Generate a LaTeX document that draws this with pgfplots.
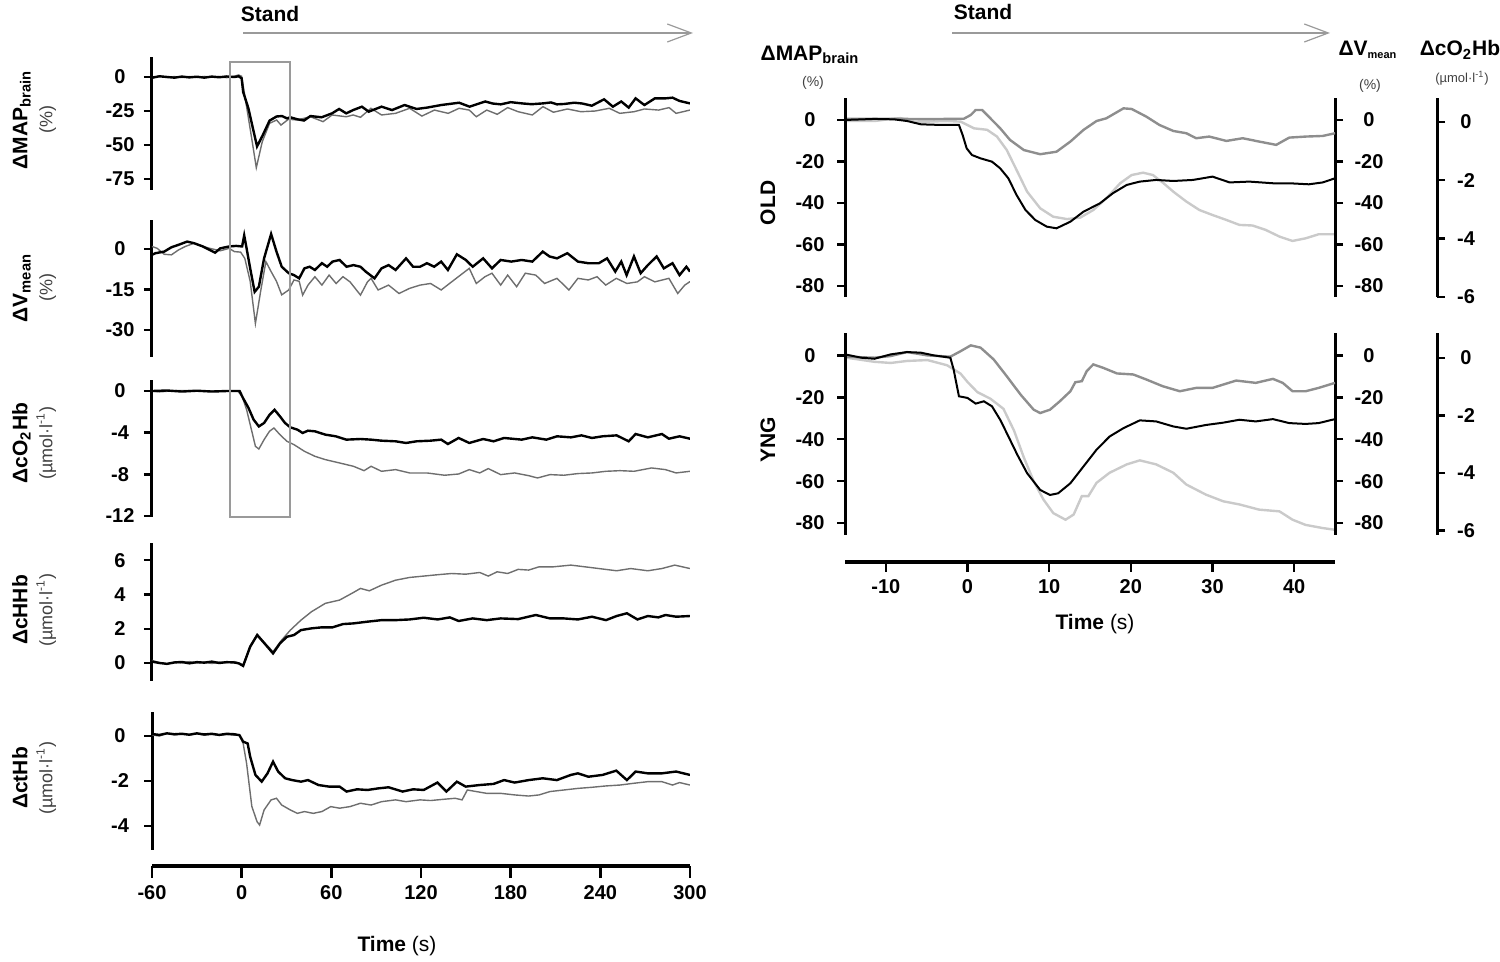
\documentclass[border=0pt]{standalone}
\usepackage{fontspec}
\setmainfont{Liberation Sans}
\usepackage{pgfplots}
\pgfplotsset{compat=1.18}
\usetikzlibrary{arrows.meta}

\definecolor{trgray}{HTML}{6E6E6E}
\definecolor{vgray}{HTML}{8E8E8E}
\definecolor{ogray}{HTML}{CACACA}
\definecolor{boxgray}{HTML}{9A9A9A}

\pgfplotsset{
  panel/.style={scale only axis, anchor=south west,
    axis x line=none, axis y line=left, xtick=\empty,
    axis line style={-, line width=1.5pt},
    tick align=outside, major tick length=4pt,
    major tick style={line width=1.2pt, black},
    ticklabel style={font=\bfseries\fontsize{10}{12}\selectfont},
    /pgf/number format/assume math mode=true},
  leftp/.style={panel, xmin=-60, xmax=300, width=269pt,
    yticklabel style={anchor=center, xshift=-12pt}},
  rightp/.style={panel, xmin=-15, xmax=45, width=245pt},
  mapax/.style={yticklabel style={anchor=center, xshift=-13.5pt}},
  vax/.style={yticklabel style={anchor=center, xshift=13pt}},
  oax/.style={yticklabel style={anchor=center, xshift=10.5pt}},
  onright/.style={axis y line=right, axis line style={-, line width=1.5pt},
    y axis line style={-}, every outer y axis line/.append style={-},
    tick align=outside},
  xonly/.style={scale only axis, anchor=south west, height=1pt,
    ymin=0, ymax=1, axis y line=none, ytick=\empty, axis x line=bottom,
    tick align=outside,
    major tick style={line width=1.2pt, black},
    ticklabel style={font=\bfseries\fontsize{10}{12}\selectfont},
    /pgf/number format/assume math mode=true},
  blk/.style={black, line width=1.2pt, mark=none},
  gry/.style={trgray, line width=0.7pt, mark=none},
}

\begin{document}
\begin{tikzpicture}

% ---------------- left column: 5 panels, -60..300 s ----------------
\begin{axis}[leftp, at={(76pt,386pt)}, height=66.5pt,
  ymin=-83, ymax=14.7, ytick={-75,-50,-25,0}]
\addplot[gry] coordinates {(-60,-1) (-55,0.8) (-50,-0.3) (-45,0.3) (-40,-0.4) (-35,0.3) (-30,-0.3) (-25,0.4) (-20,-0.2) (-15,0.3) (-10,-0.5) (-5,0.5) (-2,1.5) (0,0.5) (2,-13) (6.7,-45) (9.8,-66.6) (13.8,-47.5) (18.7,-34) (23.4,-31.6) (26.3,-35.3) (31.4,-31) (37,-31.6) (46,-29.2) (54.5,-32.8) (60.5,-27.9) (70,-29.2) (74.6,-27.9) (79.5,-29.6) (86.5,-23) (93.6,-27.9) (103,-26.7) (112.4,-23) (120.6,-28.7) (129,-24.3) (138.2,-26.7) (145.5,-23) (152.3,-24.3) (157,-29.2) (164,-24.3) (171,-27.4) (178,-22.5) (185,-25.5) (194.5,-27.9) (201.6,-21.8) (208.6,-25.9) (218,-23.5) (227,-25.5) (236.5,-25) (246,-23) (253,-26.7) (262.6,-25.5) (269.5,-23.5) (279,-24.3) (286,-22.5) (290.7,-26.7) (300,-24.3)};
\addplot[blk] coordinates {(-60,-0.5) (-55,0.5) (-50,0) (-45,-0.5) (-40,0.3) (-35,-0.3) (-30,0.2) (-25,-0.5) (-20,0.3) (-15,-0.2) (-10,0.4) (-5,0) (-2,0.5) (0,-1) (1,-11) (4.5,-23) (8,-40) (10.3,-51) (14,-43) (18.7,-32) (23.4,-29) (27,-28.7) (30.3,-30.4) (32.6,-29.6) (37,-31) (41.7,-32) (46,-28.7) (53.5,-29.6) (60.5,-26.7) (65.2,-23.5) (70,-26.7) (74.6,-24.3) (80.5,-21.8) (85,-25.5) (93.6,-21.8) (100.6,-24.3) (109,-20.6) (117,-23.5) (124,-22.5) (133.5,-20.6) (145.5,-18.9) (152.5,-21.8) (163,-18) (168,-19.5) (173.4,-20.1) (180,-18.5) (187.6,-19.4) (194,-20) (201.6,-19.4) (207,-18.7) (211,-20.1) (216,-19.8) (222.6,-18.9) (228,-19.5) (234.3,-21.1) (242.5,-16.4) (248.4,-21.8) (254,-18) (259,-22.5) (263.6,-15.7) (269.5,-20.6) (276.5,-15.7) (283.6,-15.7) (288.3,-15.2) (293,-17.6) (300,-19.4)};
\end{axis}

\begin{axis}[leftp, at={(76pt,302.5pt)}, height=68.5pt,
  ymin=-40, ymax=10.7, ytick={-30,-15,0}]
\addplot[gry] coordinates {(-60,0.9) (-56.5,0.2) (-51.8,-2) (-47,-2.2) (-42.3,-0.4) (-37.7,0.9) (-31.8,2.1) (-26,0.9) (-21.3,0.2) (-14.3,-0.7) (-8.4,0.2) (-4.9,-1) (-0.7,-1.2) (2.1,-3.5) (5.7,-12) (9.2,-27.6) (12.7,-15.7) (16.2,-4.7) (19.7,-8.4) (23.3,-12) (26.8,-17) (31.5,-15.2) (35,-11.5) (38.5,-12) (40.8,-17.1) (44.4,-13.4) (49,-10.3) (53.7,-13.4) (58.5,-9.7) (63.2,-12.8) (67.8,-10.3) (72.5,-12.2) (79.5,-17.1) (84.2,-12.2) (86.6,-10.9) (91.3,-15.2) (98.3,-13.4) (105.3,-16.5) (112.4,-14.6) (119.4,-13.4) (126.4,-12.8) (133.5,-15.2) (140.5,-12.2) (146.4,-9.7) (152.3,-7.2) (157,-12.8) (162.8,-10.3) (167.5,-9) (173.3,-13.4) (178,-9.7) (184,-14) (189.8,-9) (196.8,-9.7) (202.7,-12.8) (211,-10.9) (219,-15.2) (225,-10.9) (232,-11.5) (237.8,-10.3) (243.6,-13.4) (250.7,-10.9) (257.8,-12.8) (264.8,-12.2) (269.5,-10.3) (276.5,-12.2) (285.9,-10.9) (291.8,-16.5) (296.5,-13.4) (300,-12.1)};
\addplot[blk] coordinates {(-60,-2.2) (-57.7,-1.6) (-51.8,-1) (-47,0.6) (-42.3,1.5) (-36.5,2.7) (-31.8,2.1) (-26,0.9) (-21.3,-0.4) (-17.8,-1.4) (-14.3,0.2) (-8.4,0.9) (-3.7,1.1) (0.3,0.9) (1.7,5) (3.3,0.2) (5.7,-7.2) (8.7,-15.9) (11.5,-14) (15,-3.5) (19.7,5.5) (23.3,-1) (26.8,-6.6) (31.5,-9) (35,-9.7) (38.5,-10.9) (42,-7.2) (45.5,-6.6) (49,-7.8) (53.7,-5.3) (57.2,-6.6) (60.8,-4.7) (65.5,-4.1) (70.2,-6.6) (74.8,-6) (79.5,-6.6) (83,-8.4) (88.9,-10.9) (93.6,-7.2) (98.3,-6) (103,-7.8) (110,-3.5) (114.7,-6.6) (119.4,-6.6) (124,-5.3) (128.8,-6.6) (133.5,-4.7) (138,-7.8) (144,-2) (150,-4.1) (154.6,-6.6) (161.6,-3.5) (167.5,-7.2) (173.3,-4.1) (180.4,-4.7) (187.4,-4.1) (194.5,-4.7) (201.5,-1) (206,-2.8) (211,-3.5) (217.9,-1.6) (225,-4.7) (232,-5.3) (239,-5.3) (244.5,-3.5) (250,-8.4) (254,-4.7) (257.6,-9.7) (262.5,-2.8) (267,-9) (271.8,-6) (277.7,-2.8) (282.5,-7.2) (288.3,-5.3) (293,-9.7) (297.6,-6.6) (300,-8.4)};
\end{axis}

\begin{axis}[leftp, at={(76pt,222.5pt)}, height=68.5pt,
  ymin=-12.1, ymax=1.06, ytick={-12,-8,-4,0}]
\addplot[gry] coordinates {(-60,0) (-55,-0.08) (-45,0.03) (-35,0.05) (-25,-0.03) (-15,0.02) (-2.6,0) (0.3,-0.51) (3.3,-1.79) (6.8,-3.87) (9.2,-5.31) (11.5,-5.57) (15,-4.67) (18.6,-3.87) (21.6,-3.55) (25.6,-4.19) (30.3,-4.83) (35,-5.15) (42,-5.79) (49,-6.27) (56,-6.59) (65.5,-6.91) (74.8,-7.23) (81.9,-7.65) (86.6,-7.23) (93.6,-7.71) (103,-7.55) (112.4,-7.87) (124,-7.87) (135.8,-8.09) (145.2,-7.97) (152.3,-7.55) (159.3,-7.87) (165,-7.45) (173.3,-8.03) (182.7,-7.87) (192,-8.13) (198,-8.35) (206.3,-8.03) (215.6,-8.09) (225,-7.93) (234.4,-7.87) (243.8,-7.71) (253.2,-7.65) (262.6,-7.71) (274.3,-7.39) (283.6,-7.55) (290.7,-7.87) (300,-7.71)};
\addplot[blk] coordinates {(-60,0) (-50,0.05) (-40,-0.05) (-30,0.03) (-20,-0.05) (-10,0) (-1.4,0) (1,-0.7) (4.5,-1.6) (8,-2.75) (11.5,-3.4) (15,-3.07) (18.6,-2.3) (22,-1.8) (25.6,-2.43) (29,-3.07) (32.6,-3.49) (37.3,-3.71) (40.8,-4.03) (44.4,-3.81) (49,-3.87) (56,-4.19) (63,-4.35) (70,-4.67) (79.5,-4.61) (86.5,-4.67) (93.6,-4.77) (103,-4.83) (110,-4.99) (117,-4.83) (126.4,-4.77) (133.5,-4.67) (138,-5.09) (145.2,-4.51) (152.3,-4.99) (161.6,-4.61) (168.6,-4.83) (175.6,-4.51) (187.4,-4.67) (194.5,-4.45) (203.9,-4.67) (211,-4.35) (220.3,-4.45) (227.4,-4.26) (234.4,-4.51) (241.5,-4.35) (250.9,-4.26) (259,-4.83) (263.6,-4.13) (271.8,-4.45) (281.2,-4.13) (285.9,-4.58) (293,-4.35) (300,-4.58)};
\end{axis}

\begin{axis}[leftp, at={(76pt,140.5pt)}, height=69pt,
  ymin=-1.05, ymax=7, ytick={0,2,4,6}]
\addplot[gry] coordinates {(-60,0.15) (-55,0.02) (-50,-0.05) (-45,0.05) (-40,0) (-35,0.08) (-30,0) (-25,0.05) (-20,-0.03) (-15,0.05) (-10,0.02) (-5,0.08) (-2,0) (1,-0.1) (5.7,1) (10.4,1.67) (16.2,1.1) (21,0.66) (26.8,1.34) (32.6,1.92) (39.7,2.5) (46.7,2.99) (56,3.48) (65.5,3.67) (73.7,4.06) (79.5,4.35) (85.4,4.21) (93.6,4.54) (103,4.83) (112.4,4.99) (121.8,5.07) (131.2,5.15) (140.5,5.22) (149.9,5.18) (159.3,5.28) (165,5.07) (171,5.32) (178,5.22) (185,5.46) (192,5.42) (199,5.61) (208.6,5.61) (220.3,5.71) (229.7,5.61) (239,5.51) (250.9,5.38) (260.3,5.51) (271.8,5.38) (281.2,5.51) (289.8,5.71) (300,5.51)};
\addplot[blk] coordinates {(-60,0.08) (-55,0) (-50,-0.05) (-45,0.03) (-40,0.06) (-35,-0.02) (-30,0.05) (-25,0.02) (-20,0.08) (-15,0) (-10,0.05) (-5,0.03) (-2,-0.02) (1,-0.17) (5.7,0.95) (10.4,1.63) (16.2,1.05) (21,0.56) (25.6,1.14) (30.3,1.53) (35,1.63) (39.7,1.92) (46.7,2.02) (53.7,2.08) (60.8,2.08) (67.8,2.27) (74.8,2.31) (84.2,2.41) (93.6,2.5) (103,2.5) (112.4,2.54) (121.8,2.64) (131.2,2.54) (139.3,2.66) (145.2,2.45) (154.6,2.6) (164,2.5) (173.3,2.6) (185,2.56) (196.8,2.8) (206.3,2.6) (215.6,2.6) (225,2.54) (234.4,2.7) (243.8,2.5) (250.9,2.74) (257.8,2.9) (264.8,2.54) (271.8,2.74) (278.8,2.66) (283.6,2.8) (290.7,2.7) (300,2.74)};
\end{axis}

\begin{axis}[leftp, at={(76pt,56pt)}, height=69pt,
  ymin=-5.07, ymax=1.07, ytick={-4,-2,0}]
\addplot[gry] coordinates {(-60,0.05) (-55,0) (-50,0.12) (-45,0.05) (-40,0.09) (-35,0.05) (-30,0.1) (-25,0.04) (-20,0.08) (-15,0.03) (-10,0.07) (-5,0.04) (-1.5,0.04) (1,-0.33) (3.3,-1.22) (6.8,-3.13) (10.3,-3.81) (12,-3.96) (15,-3.29) (19.7,-2.84) (23.3,-2.77) (26.8,-3.07) (32.6,-3.29) (37.3,-3.44) (42,-3.36) (47.9,-3.44) (53.7,-3.36) (59.6,-3.14) (65.5,-3.21) (72.5,-3.14) (79.5,-2.99) (86.6,-3.07) (93.6,-2.92) (103,-2.84) (110,-2.92) (119.4,-2.84) (126.4,-2.87) (135.8,-2.81) (142.9,-2.77) (147.5,-2.84) (151,-2.4) (156.9,-2.47) (164,-2.55) (173.3,-2.55) (182.7,-2.62) (192,-2.67) (199,-2.62) (206.3,-2.47) (215.6,-2.4) (225,-2.33) (234.4,-2.28) (243.8,-2.22) (253.2,-2.18) (262.6,-2.1) (271.8,-2.03) (281.2,-2.03) (288.3,-2.18) (293,-2.07) (300,-2.18)};
\addplot[blk] coordinates {(-60,0.09) (-55,0.05) (-50,0.12) (-45,0.08) (-40,0.1) (-35,0.06) (-30,0.12) (-25,0.07) (-20,0.1) (-15,0.05) (-10,0.1) (-5,0.08) (-1.5,0.04) (1,-0.25) (4,-0.33) (5.7,-0.92) (9.2,-1.73) (13.4,-2.03) (17.3,-1.66) (21,-1.14) (24.4,-1.58) (29.1,-1.88) (33.8,-1.96) (39.7,-2.03) (44.4,-1.96) (51.4,-2.18) (58.5,-2.25) (65.5,-2.25) (70.2,-2.47) (77.2,-2.37) (84.2,-2.4) (91.3,-2.33) (98.3,-2.28) (107.7,-2.47) (114.7,-2.37) (121.8,-2.4) (131,-2.07) (137,-2.47) (144,-2.03) (149.9,-2.25) (159.3,-2.18) (168.6,-2.13) (175.6,-1.96) (182.7,-2.07) (192,-1.96) (201.5,-1.88) (210.9,-1.96) (220.3,-1.73) (225,-1.66) (232,-1.81) (241.5,-1.73) (250.7,-1.54) (257.8,-1.96) (263.6,-1.58) (271.8,-1.66) (281.2,-1.66) (290.7,-1.58) (300,-1.73)};
\end{axis}

\begin{axis}[xonly, at={(76pt,48pt)}, width=269pt, xmin=-60, xmax=300,
  xtick={-60,0,60,120,180,240,300}, major tick length=6pt,
  axis line style={-, line width=1.8pt}]
\end{axis}

% ---------------- right column: OLD / YNG, -15..45 s ----------------
% OLD
\begin{axis}[rightp, onright, oax, at={(422.5pt,332.5pt)}, height=99.5pt,
  xmin=-15, xmax=57.49, width=296pt,
  ymin=-6, ymax=0.82, ytick={-6,-4,-2,0}]
\addplot[ogray, line width=1.2pt, mark=none] coordinates {(-15,0.03) (-11.4,0.03) (-9.4,0.1) (-8.2,0.13) (-6.5,0.01) (-4.9,0.01) (-2.5,0.03) (-0.85,0.01) (0.8,-0.22) (2.4,-0.27) (3.6,-0.5) (4.8,-0.96) (6.1,-1.7) (7.3,-2.39) (8.9,-2.96) (10.5,-3.25) (12.2,-3.33) (13.8,-3.28) (15.4,-3.02) (17,-2.62) (18.7,-2.1) (20.1,-1.82) (21.5,-1.74) (22.7,-1.82) (24,-2.1) (25.2,-2.39) (26.8,-2.73) (28.4,-3.02) (30,-3.19) (31.7,-3.36) (33.3,-3.53) (34.9,-3.55) (36.5,-3.7) (38.2,-3.93) (39.8,-4.08) (41.4,-3.99) (43,-3.85) (45,-3.85)};
\end{axis}
\begin{axis}[rightp, onright, vax, at={(422.5pt,332.5pt)}, height=99.5pt,
  ymin=-85.3, ymax=10.6, ytick={-80,-60,-40,-20,0}]
\addplot[vgray, line width=1.2pt, mark=none] coordinates {(-15,0.5) (-10,0.6) (-5,0.4) (-0.45,0.6) (0.4,2.4) (1,4.8) (1.8,4.8) (2.6,1.6) (4,-4) (5.2,-9.6) (6.9,-14.5) (8.9,-16.5) (10.9,-15.3) (12.6,-10.4) (14.2,-4.8) (15.8,-0.5) (17,0.8) (19.1,5.6) (20.1,5.3) (21.9,1.6) (23.5,-2.4) (25.2,-5.3) (26.8,-6.4) (28,-8.8) (29.6,-8) (31.7,-10.1) (33.7,-8.8) (35.7,-10.4) (37.8,-12) (39.4,-8.5) (41.4,-8) (43.5,-7.7) (45,-6.4)};
\end{axis}
\begin{axis}[rightp, mapax, at={(422.5pt,332.5pt)}, height=99.5pt,
  ymin=-85.3, ymax=10.6, ytick={-80,-60,-40,-20,0}]
\addplot[black, line width=1pt, mark=none] coordinates {(-15,0) (-11.4,0.5) (-9,0.3) (-7.4,-0.5) (-5.7,-2.1) (-3.3,-2.4) (-1.05,-2.4) (-0.6,-7.2) (-0.1,-13.7) (0.55,-16.9) (1.6,-18.5) (3,-20.1) (4,-23.3) (5,-28.1) (6,-36.1) (7.1,-43.4) (8.3,-48.2) (9.7,-51.4) (10.9,-52.2) (12.6,-49) (14.2,-44.2) (16.2,-40.2) (17.8,-35.3) (19.5,-31.3) (21.1,-29.7) (23.1,-28.9) (25.2,-29.4) (27.6,-28.9) (30,-27.3) (32.1,-30.1) (34.5,-29.7) (37.4,-30.5) (39.4,-30.5) (41.8,-31) (43.5,-30.1) (45,-28.1)};
\end{axis}

% YNG
\begin{axis}[rightp, onright, oax, at={(422.5pt,213.5pt)}, height=101pt,
  xmin=-15, xmax=57.49, width=296pt,
  ymin=-6.15, ymax=0.86, ytick={-6,-4,-2,0}]
\addplot[ogray, line width=1.2pt, mark=none] coordinates {(-15,0.01) (-11.4,-0.14) (-9.4,-0.18) (-7.4,-0.11) (-4.9,-0.08) (-2.5,-0.26) (-0.85,-0.55) (0,-0.84) (1.2,-1.19) (2.8,-1.42) (4.4,-1.77) (5.7,-2.53) (6.9,-3.46) (8.1,-4.28) (9.3,-4.92) (10.5,-5.39) (12,-5.62) (13,-5.44) (14,-4.8) (14.8,-4.8) (15.8,-4.34) (17.4,-3.99) (19.5,-3.7) (21.1,-3.56) (23.1,-3.7) (25.2,-3.99) (26.8,-4.4) (29.2,-4.75) (31.3,-4.98) (33.3,-5.09) (35.7,-5.27) (38.2,-5.33) (39.8,-5.62) (41.4,-5.8) (43.5,-5.91) (45,-5.97)};
\end{axis}
\begin{axis}[rightp, onright, vax, at={(422.5pt,213.5pt)}, height=101pt,
  ymin=-85.7, ymax=10.7, ytick={-80,-60,-40,-20,0}]
\addplot[vgray, line width=1.2pt, mark=none] coordinates {(-15,-0.6) (-11.4,-1.1) (-9.4,-0.3) (-7.4,1.6) (-4.9,0) (-2.1,-0.6) (-0.85,2) (0.4,4.8) (1.6,3.7) (3.2,-1.9) (4.8,-9.9) (6.5,-18.7) (8.1,-25.9) (8.9,-27.5) (10.1,-25.9) (11.3,-21.9) (12.6,-17.1) (13.2,-12.8) (14,-12.3) (14.6,-7.5) (15.4,-4.3) (16.6,-5.9) (18.3,-8.6) (20.3,-9.1) (21.9,-11.5) (23.9,-14.7) (26,-17.1) (28,-15.5) (30,-15.5) (32.9,-12) (35.3,-13.1) (37.4,-11.2) (38.6,-13.1) (39.8,-17.1) (41.4,-17.1) (43,-15.5) (45,-13.1)};
\end{axis}
\begin{axis}[rightp, mapax, at={(422.5pt,213.5pt)}, height=101pt,
  ymin=-85.7, ymax=10.7, ytick={-80,-60,-40,-20,0}]
\addplot[black, line width=1pt, mark=none] coordinates {(-15,0.5) (-13,-1.1) (-11.4,-1.6) (-9.4,0.5) (-7.4,1.6) (-5.7,1.3) (-4.1,0) (-2.1,-1.1) (-1.7,-6.7) (-1.05,-19.5) (0,-20.3) (1,-23) (2,-21.9) (3,-24.3) (4,-30.7) (4.8,-37) (6.1,-47.4) (7.3,-56.2) (8.9,-64.2) (10.1,-66.6) (11.1,-65.8) (12.6,-61) (14.2,-53) (15.8,-45) (17.4,-38.7) (19.1,-34.7) (21.1,-31) (23.1,-31.5) (25.2,-33.9) (26.8,-35) (29.2,-33.2) (31.3,-32.1) (33.3,-30.7) (35.3,-31.5) (37.4,-30.4) (39.4,-32.3) (41.4,-32.7) (43,-32.3) (45,-30.4)};
\end{axis}

\begin{axis}[xonly, at={(422.5pt,200pt)}, width=245pt, xmin=-15, xmax=45,
  xtick={-10,0,10,20,30,40}, major tick length=5pt,
  axis line style={-, line width=2.2pt}]
\end{axis}

% ---------------- annotations ----------------
\draw[boxgray, line width=0.7pt] (115pt,450pt) rectangle (145pt,222.5pt);

\draw[boxgray, line width=0.6pt, -{Straight Barb[length=12pt,width=9pt,line width=0.6pt]}]
  (121.5pt,464.5pt) -- (346.5pt,464.5pt);
\node[font=\bfseries\fontsize{10.5}{13}\selectfont] at (135pt,474pt) {Stand};
\draw[boxgray, line width=0.6pt, -{Straight Barb[length=12pt,width=9pt,line width=0.6pt]}]
  (476pt,464.5pt) -- (665pt,464.5pt);
\node[font=\bfseries\fontsize{10.5}{13}\selectfont] at (491.5pt,475pt) {Stand};

\tikzset{lab1/.style={rotate=90, anchor=mid, font=\bfseries\fontsize{10.5}{12}\selectfont},
         lab2/.style={rotate=90, anchor=mid, text=black!75, font=\fontsize{9}{11}\selectfont}}
\node[lab1] at (11pt,421pt) {ΔMAP\textsubscript{brain}};
\node[lab2] at (23.5pt,421pt) {(\%)};
\node[lab1] at (11pt,337pt) {ΔV\textsubscript{mean}};
\node[lab2] at (23.5pt,337pt) {(\%)};
\node[lab1] at (11pt,259.5pt) {ΔcO\textsubscript{2}Hb};
\node[lab2] at (23.5pt,259.5pt) {(µmol·l\textsuperscript{-1})};
\node[lab1] at (11pt,176pt) {ΔcHHb};
\node[lab2] at (23.5pt,176pt) {(µmol·l\textsuperscript{-1})};
\node[lab1] at (11pt,92pt) {ΔctHb};
\node[lab2] at (23.5pt,92pt) {(µmol·l\textsuperscript{-1})};

\node[font=\fontsize{10.5}{12}\selectfont] at (198.5pt,8pt) {\textbf{Time} (s)};
\node[font=\fontsize{10.5}{12}\selectfont] at (547.5pt,169pt) {\textbf{Time} (s)};

\node[font=\bfseries\fontsize{10.5}{12}\selectfont] at (405pt,453.5pt) {ΔMAP\textsubscript{brain}};
\node[text=black!75, font=\fontsize{7}{8}\selectfont] at (406.5pt,439.5pt) {(\%)};
\node[font=\bfseries\fontsize{10.5}{12}\selectfont] at (684pt,456pt) {ΔV\textsubscript{\fontsize{5.5}{6}\selectfont mean}};
\node[text=black!75, font=\fontsize{7}{8}\selectfont] at (685pt,438pt) {(\%)};
\node[font=\bfseries\fontsize{10.5}{12}\selectfont] at (730pt,456pt) {ΔcO\textsubscript{2}Hb};
\node[text=black!75, font=\fontsize{6.5}{8}\selectfont] at (731pt,442pt) {(µmol·l\textsuperscript{-1})};

\node[rotate=90, font=\bfseries\fontsize{10.5}{12}\selectfont] at (384pt,379.5pt) {OLD};
\node[rotate=90, font=\bfseries\fontsize{10.5}{12}\selectfont] at (384pt,261pt) {YNG};

\pgfresetboundingbox
\path[use as bounding box] (0,0) rectangle (750pt,481pt);
\end{tikzpicture}
\end{document}
